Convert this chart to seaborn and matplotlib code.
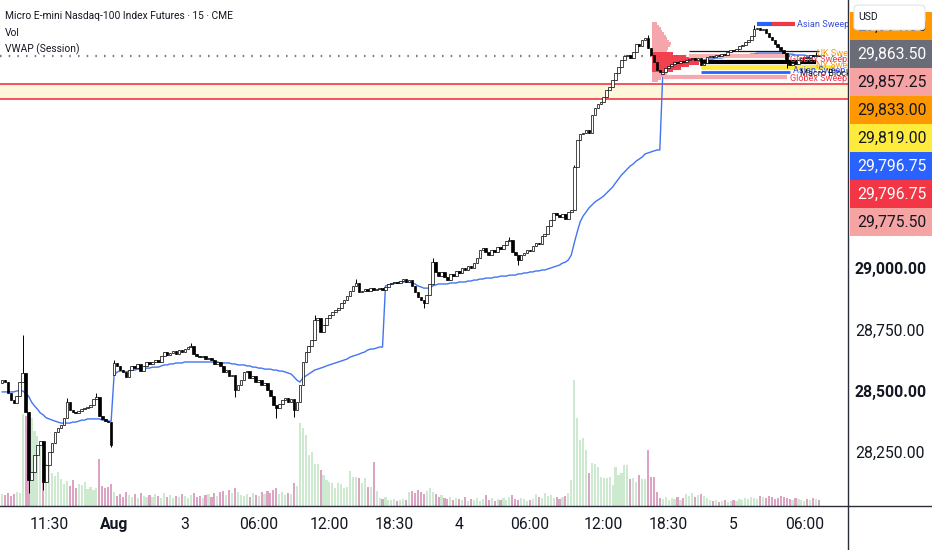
import numpy as np
import pandas as pd
import matplotlib
matplotlib.use('Agg')
import matplotlib.pyplot as plt
from matplotlib import font_manager
from matplotlib.lines import Line2D
from matplotlib.patches import Rectangle, FancyBboxPatch
import seaborn as sns

# ---- values: MNQ 15 min bars ----
closes = [
    28543, 28535, 28490, 28462, 28450, 28478, 28535, 28572, 28413, 28136,
    28168, 28238, 28278, 28295, 28128, 28197, 28250, 28287, 28332, 28348,
    28360, 28389, 28454, 28421, 28413, 28409, 28417, 28425, 28429, 28433,
    28442, 28466, 28474, 28397, 28385, 28376, 28372, 28278,
    28613,
    28601, 28584, 28576, 28556, 28584, 28601, 28592, 28609, 28580, 28601, 28617,
    28609, 28617, 28625, 28617, 28641, 28658, 28645, 28654, 28662, 28649,
    28666, 28658, 28670, 28678, 28682, 28649, 28641, 28637, 28641, 28629,
    28633, 28625, 28609, 28617, 28601, 28576, 28584, 28560, 28564, 28503,
    28523, 28543, 28576, 28580, 28552, 28560, 28535, 28543, 28523, 28531,
    28503, 28478, 28442, 28429, 28446, 28462, 28470, 28454, 28466, 28421,
    28454,
    28523, 28617, 28658, 28682, 28707, 28788, 28796, 28739, 28768,
    28796, 28808, 28821, 28829, 28837, 28857, 28870, 28886, 28906, 28927,
    28939, 28902, 28906, 28914, 28906, 28918, 28910, 28914, 28918, 28910,
    28923, 28935, 28939, 28943, 28939, 28947, 28955, 28943, 28951, 28927,
    28902, 28882, 28870, 28857, 28890, 28935, 29024, 28984, 28967, 28984,
    28963, 28951, 28976, 28967, 28988, 28980, 29000, 28992, 29008, 29000,
    29020, 29041, 29073, 29082, 29065, 29053, 29073, 29065, 29086, 29078,
    29094, 29110, 29114, 29065, 29053, 29033, 29053, 29061, 29073, 29069,
    29090, 29102, 29098, 29130, 29139, 29171, 29196, 29224, 29216, 29208,
    29220, 29200, 29228, 29236, 29412, 29522, 29546, 29550, 29562, 29550,
    29624, 29652, 29668, 29677, 29697, 29726, 29738, 29766, 29795, 29819,
    29848, 29864, 29868, 29856, 29880, 29913, 29905, 29929, 29938, 29897,
    29868, 29840, 29807, 29799,
    29799, 29815, 29823, 29832, 29840, 29836, 29844, 29840, 29848, 29852,
    29856, 29848, 29856, 29827, 29836, 29860, 29864, 29860, 29868, 29864,
    29872, 29868, 29880, 29889, 29885, 29893, 29905, 29909, 29921, 29929,
    29946, 29974, 29978, 29970, 29974, 29958, 29942, 29929, 29913, 29901,
    29889, 29876, 29840, 29827, 29836, 29832, 29848, 29856, 29860, 29856,
    29868, 29864, 29868, 29863.5,
]
# opens are the previous close except where a bar gapped
gap_opens = {0: 28531, 38: 28564, 224: 29790}
wick_highs = {7: 28727, 22: 28470, 32: 28490, 38: 28625, 64: 28695, 106: 28808,
              120: 28955, 146: 29041, 172: 29126, 194: 29420, 219: 29950,
              255: 29990, 276: 29880}
wick_lows = {9: 28083, 11: 28180, 14: 28095, 37: 28270, 79: 28474, 93: 28389,
             99: 28393, 143: 28837, 175: 29012, 266: 29815}

volume_hundreds = [
    12, 11, 13, 10, 12, 14, 13, 92, 90, 80,
    88, 75, 70, 62, 45, 42, 40, 33, 30, 34,
    27, 22, 25, 20, 26, 18, 22, 21, 24, 17,
    19, 16, 18, 47, 20, 18, 19, 22,
    14,
    10, 12, 9, 14, 11, 9, 12, 8, 13, 10, 9,
    11, 9, 12, 10, 8, 13, 9, 11, 8, 10,
    9, 12, 10, 8, 11, 13, 9, 10, 8, 11,
    12, 9, 13, 10, 14, 15, 11, 16, 13, 18,
    14, 11, 10, 12, 9, 13, 11, 10, 14, 12,
    15, 13, 16, 18, 12, 14, 11, 13, 12, 23,
    20,
    83, 78, 71, 51, 54, 42, 42, 36, 31,
    26, 24, 23, 18, 23, 22, 18, 19, 35, 29,
    29, 28, 23, 28, 19, 19, 44, 15, 8, 7,
    9, 6, 6, 7, 5, 6, 7, 6, 14, 15,
    13, 16, 14, 12, 15, 18, 14, 12, 9, 11,
    8, 7, 9, 6, 8, 7, 6, 9, 5, 7,
    6, 8, 5, 7, 11, 6, 8, 5, 7, 6,
    8, 6, 9, 11, 7, 6, 8, 7, 5, 6,
    7, 12, 9, 8, 13, 10, 11, 8, 9, 7,
    9, 10, 13, 26, 126, 88, 66, 68, 56, 33,
    43, 42, 39, 29, 28, 28, 29, 21, 39, 31,
    33, 41, 41, 27, 28, 24, 31, 27, 27, 56,
    29, 29, 14, 8,
    7, 9, 6, 8, 7, 9, 6, 8, 12, 10,
    13, 9, 11, 12, 10, 8, 6, 5, 6, 4,
    5, 6, 4, 5, 6, 5, 7, 6, 8, 7,
    9, 8, 7, 10, 9, 8, 10, 9, 7, 8,
    10, 9, 8, 7, 6, 8, 7, 6, 5, 7, 6, 8, 7, 6,
]

vwap_session = [
    28495, 28495, 28495, 28495, 28495, 28499, 28499, 28499, 28490, 28478,
    28454, 28438, 28425, 28409, 28401, 28389, 28385, 28380, 28376, 28372,
    28368, 28368, 28368, 28368, 28372, 28372, 28376, 28380, 28380, 28385,
    28385, 28385, 28385, 28385, 28380, 28380, 28376, 28376,
    28564, 28576, 28580, 28580, 28576, 28580, 28584, 28584, 28588, 28588, 28588, 28592,
    28592, 28596, 28596, 28596, 28601, 28605, 28605, 28609, 28609, 28613,
    28613, 28613, 28617, 28617, 28617, 28617, 28617, 28617, 28617, 28617,
    28617, 28617, 28617, 28617, 28613, 28613, 28613, 28613, 28609, 28609,
    28605, 28605, 28605, 28601, 28601, 28596, 28596, 28592, 28592, 28588,
    28588, 28588, 28584, 28584, 28580, 28580, 28576, 28572, 28568, 28556, 28543,
    28535, 28552, 28560, 28568, 28576, 28584, 28588, 28592, 28596,
    28601, 28605, 28609, 28613, 28617, 28621, 28625, 28629, 28637, 28641,
    28645, 28649, 28654, 28658, 28666, 28670, 28670, 28674, 28678, 28678,
    28927, 28931, 28935, 28939, 28939, 28943, 28943, 28943, 28943, 28939,
    28935, 28927, 28923, 28918, 28918, 28918, 28927, 28931, 28935, 28935,
    28935, 28935, 28939, 28939, 28939, 28943, 28943, 28943, 28947, 28947,
    28951, 28951, 28955, 28955, 28959, 28959, 28959, 28963, 28963, 28967,
    28967, 28967, 28971, 28971, 28971, 28976, 28976, 28980, 28980, 28984,
    28984, 28988, 28988, 28992, 28992, 28996, 29000, 29004, 29008, 29012,
    29020, 29024, 29033, 29053, 29102, 29147, 29188, 29212, 29228, 29245,
    29257, 29269, 29277, 29285, 29294, 29306, 29318, 29330, 29347, 29363,
    29379, 29391, 29404, 29416, 29424, 29436, 29444, 29452, 29465, 29469,
    29473, 29477, 29481, 29481,
    29787, 29799, 29807, 29815, 29819, 29823, 29827, 29832, 29836, 29840,
    29844, 29844, 29848, 29848, 29848, 29852, 29852, 29852, 29856, 29856,
    29856, 29860, 29860, 29860, 29864, 29864, 29864, 29868, 29868, 29868,
    29872, 29872, 29876, 29876, 29876, 29876, 29876, 29876, 29876, 29876,
    29876, 29876, 29872, 29872, 29872, 29868, 29868, 29868, 29868, 29864,
    29864, 29864, 29864, 29864,
]

last_price = 29863.50

time_labels = ['11:30', 'Aug', '3', '06:00', '12:00', '18:30', '4', '06:00',
               '12:00', '18:30', '5', '06:00']
time_label_bars = [16, 38, 62, 87, 111, 133, 155, 179, 204, 226, 248, 272]
price_ticks = [28250, 28500, 28750, 29000]
bold_ticks = [28500, 29000]

zone_top, zone_bottom = 29749, 29688

# session volume profile (last session)
profile_prices = [29996, 29986, 29976, 29966, 29956, 29946, 29935, 29925, 29915,
                  29905, 29895, 29885, 29874, 29864, 29854, 29844, 29834, 29823,
                  29813, 29803, 29793, 29783, 29772, 29762]
profile_volume = [5, 7, 9, 10, 12, 14, 15, 17, 19, 18, 16, 15, 22, 34, 46, 54, 48,
                  38, 30, 22, 15, 11, 9, 6]
value_area = (29800, 29878)
profile_start_bar = 220.3

# swept session levels: price, first bar, last bar, colour, width
levels = [
    (29994, 256, 261, '#2962ff', 3.0),
    (29994, 261, 269, '#f23645', 3.0),
    (29885, 233, 277, '#131722', 0.9),
    (29866, 233, 266, '#f7b3b3', 3.0),
    (29838, 237, 276, '#000000', 3.0),
    (29821, 237, 282, '#ffeb3b', 3.5),
    (29797, 237, 267, '#2962ff', 2.0),
    (29778, 224, 266, '#f7a8ae', 3.0),
]
level_labels = [
    ('Asian Sweep', 29994, 269.5, '#3a4fd8'),
    ('UK Sweep', 29874, 276.3, '#ff9800'),
    ('Globex Sweep', 29848, 267.2, '#f23645'),
    ('NY Sweep', 29827, 276.0, '#ff9800'),
    ('Asian Sweep', 29806, 268.0, '#3a4fd8'),
    ('Macro Block', 29794, 270.5, '#131722'),
    ('Globex Sweep', 29772, 267.2, '#f23645'),
]

# price scale tags: text, background, text colour
price_tags = [
    ('29,991.00', '#ff9800', '#131722'),
    ('29,863.50', '#6a6d78', 'white'),
    ('29,857.25', '#f5a3a3', '#131722'),
    ('29,833.00', '#ff9800', '#131722'),
    ('29,819.00', '#ffeb3b', '#131722'),
    ('29,796.75', '#2962ff', 'white'),
    ('29,796.75', '#f23645', 'white'),
    ('29,775.50', '#f5a3a3', '#131722'),
]

# ---- frame ----
df = pd.DataFrame({'bar': np.arange(len(closes)), 'close': closes,
                   'volume': volume_hundreds, 'vwap': vwap_session})
df['open'] = df['close'].shift(1)
for i, v in gap_opens.items():
    df.loc[i, 'open'] = v
df['high'] = df[['open', 'close']].max(axis=1)
df['low'] = df[['open', 'close']].min(axis=1)
for i, v in wick_highs.items():
    df.loc[i, 'high'] = max(df.loc[i, 'high'], v)
for i, v in wick_lows.items():
    df.loc[i, 'low'] = min(df.loc[i, 'low'], v)
df['up'] = df['close'] >= df['open']

sns.set_theme(style='white')
names = {f.name for f in font_manager.fontManager.ttflist}
ui_font = 'Liberation Sans Narrow' if 'Liberation Sans Narrow' in names else 'Roboto'
plt.rcParams['font.family'] = [ui_font, 'DejaVu Sans']
ink = '#131722'
axis_fs = 11.3

W, H = 932, 550
fig = plt.figure(figsize=(W / 100, H / 100), dpi=100)
fx = lambda px: px / W
fy = lambda py: 1 - py / H
rect = [0, fy(506), fx(848), 506 / H]
ax_vol = fig.add_axes(rect)
ax = fig.add_axes(rect, sharex=ax_vol)
ax.patch.set_visible(False)

# volume underneath
vol_colors = np.where(df['up'], '#cde9cf', '#dca3c3')
ax_vol.bar(df['bar'], df['volume'], width=0.72, color=vol_colors, linewidth=0)
ax_vol.set_ylim(0, df['volume'].max() * 506 / 126)
ax_vol.axis('off')

# zone and last price line
ax.axhspan(zone_bottom, zone_top, facecolor='#fff7dc', edgecolor='none', zorder=0.5)
ax.axhline(zone_top, color='#f23645', lw=1.2, zorder=1)
ax.axhline(zone_bottom, color='#f23645', lw=1.2, zorder=1)
ax.axhline(last_price, color='#787b86', lw=1.6, ls=(0, (0.7, 3.2)), zorder=1.5)

# vwap
sns.lineplot(data=df, x='bar', y='vwap', ax=ax, color='#4274f2', lw=1.0, zorder=2)

# volume profile
pv = np.array(profile_volume, dtype=float)
pp = np.array(profile_prices, dtype=float)
inside = (pp >= value_area[0]) & (pp <= value_area[1])
ax.barh(pp, pv / pv.max() * 18.0, left=profile_start_bar, height=10.2,
        color=np.where(inside, '#f23645', '#f5a0a8'), linewidth=0, alpha=0.95, zorder=2.5)

# levels
for price, b0, b1, col, lw in levels:
    ax.hlines(price, b0, b1, color=col, lw=lw, zorder=3)

# candles
ax.vlines(df['bar'], df['low'], df['high'], color='black', lw=0.7, zorder=3.5)
body = (df['close'] - df['open']).abs().clip(lower=2.0)
ax.bar(df['bar'], body, bottom=df[['open', 'close']].min(axis=1), width=0.88,
       color=np.where(df['up'], 'white', 'black'), edgecolor='black', linewidth=0.5,
       zorder=4)

for text, price, bar, col in level_labels:
    ax.text(bar, price, text, color=col, fontsize=6.6, va='center', ha='left',
            zorder=6, clip_on=True)

ax.set_xlim(-0.68, 286.8)
ax.set_ylim(28030, 30092.4)
ax.set_xlabel('')
ax.set_ylabel('')

ax.yaxis.tick_right()
ax.set_yticks(price_ticks)
ax.set_yticklabels([f'{p:,.2f}' for p in price_ticks])
for lab, p in zip(ax.get_yticklabels(), price_ticks):
    if p in bold_ticks:
        lab.set_fontweight('bold')
ax.set_xticks(time_label_bars)
ax.set_xticklabels(time_labels)
for lab in ax.get_xticklabels():
    if lab.get_text() == 'Aug':
        lab.set_fontweight('bold')
ax.tick_params(axis='y', length=0, pad=5.0, labelsize=axis_fs, labelcolor=ink)
ax.tick_params(axis='x', length=0, pad=8, labelsize=axis_fs, labelcolor=ink)
for side in ['top', 'left']:
    ax.spines[side].set_visible(False)
for side in ['right', 'bottom']:
    ax.spines[side].set_color('#2a2e39')
    ax.spines[side].set_linewidth(1.0)
fig.add_artist(Line2D([fx(848), 1], [fy(506), fy(506)], transform=fig.transFigure,
                      color='#2a2e39', lw=1.0))
fig.add_artist(Line2D([fx(848), fx(848)], [0, fy(506)], transform=fig.transFigure,
                      color='#2a2e39', lw=1.0))

# price scale tags
for k, (text, bg, fg) in enumerate(price_tags):
    top = 12 + 28 * k
    fig.add_artist(Rectangle((fx(850), fy(top + 28)), fx(932) - fx(850), 28 / H,
                             transform=fig.transFigure, facecolor=bg, edgecolor='none',
                             zorder=2))
    fig.text(fx(857), fy(top + 14), text, color=fg, fontsize=axis_fs, va='center',
             ha='left', zorder=3)
fig.add_artist(FancyBboxPatch((fx(854), fy(30)), fx(925) - fx(854), 25 / H,
                              boxstyle='round,pad=0,rounding_size=0.006',
                              transform=fig.transFigure, facecolor='white',
                              edgecolor='#e0e3eb', lw=0.8, zorder=5))
fig.text(fx(858), fy(17.5), 'USD', color=ink, fontsize=7.5, va='center', zorder=6)

# legend lines
header_fs = 7.4
fig.text(fx(5), fy(16), 'Micro E-mini Nasdaq-100 Index Futures · 15 · CME', color=ink,
         fontsize=header_fs, va='center')
fig.text(fx(5), fy(33), 'Vol', color=ink, fontsize=header_fs, va='center')
fig.text(fx(5), fy(49), 'VWAP (Session)', color=ink, fontsize=header_fs, va='center')

fig.savefig('out.png', dpi=100)
